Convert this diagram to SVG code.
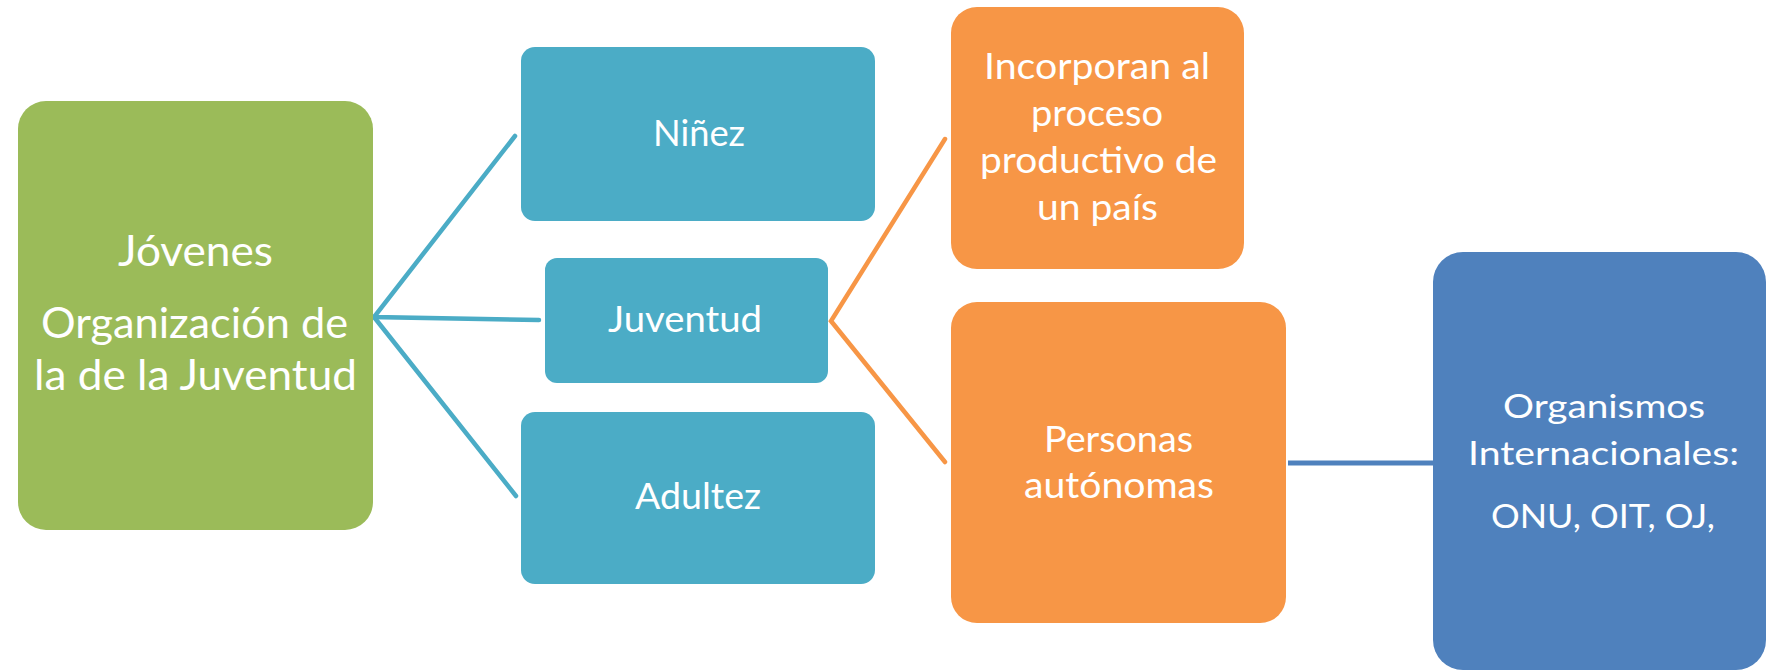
<svg xmlns="http://www.w3.org/2000/svg" width="1767" height="672" viewBox="0 0 1767 672">
<style>
  .t { font-family: Lato, "Open Sans", "Liberation Sans", sans-serif; fill: #ffffff; text-anchor: middle; }
  .big { font-size: 43px; }
  .mid { font-size: 36px; }
  .sm { font-size: 32px; }
  .teal { stroke: #4BACC6; stroke-width: 4.5; fill: none; stroke-linecap: round; }
  .orange { stroke: #F79646; stroke-width: 4.5; fill: none; stroke-linecap: round; }
  .blue { stroke: #4F81BD; stroke-width: 5; fill: none; }
</style>
<rect width="1767" height="672" fill="#ffffff"/>
<g id="connectors">
  <path class="teal" d="M515,136 L374,317 L539,320"/>
  <path class="teal" d="M374,317 L516,496"/>
  <path class="orange" d="M945,139 L831,321 L945,462"/>
  <line class="blue" x1="1288" y1="463" x2="1433" y2="463"/>
</g>
<g id="jovenes">
  <rect x="18" y="101" width="355" height="429" rx="28" fill="#9BBB59"/>
  <text class="t big" x="195.5" y="266" textLength="155" lengthAdjust="spacingAndGlyphs">Jóvenes</text>
  <text class="t big" x="194.5" y="338" textLength="307" lengthAdjust="spacingAndGlyphs">Organización de</text>
  <text class="t big" x="195.5" y="390" textLength="323" lengthAdjust="spacingAndGlyphs">la de la Juventud</text>
</g>
<g id="ninez">
  <rect x="521" y="47" width="354" height="174" rx="14" fill="#4BACC6"/>
  <text class="t mid" x="699" y="146" textLength="92" lengthAdjust="spacingAndGlyphs">Niñez</text>
</g>
<g id="juventud">
  <rect x="545" y="258" width="283" height="125" rx="12" fill="#4BACC6"/>
  <text class="t mid" x="685" y="332" textLength="154" lengthAdjust="spacingAndGlyphs">Juventud</text>
</g>
<g id="adultez">
  <rect x="521" y="412" width="354" height="172" rx="14" fill="#4BACC6"/>
  <text class="t mid" x="698" y="509" textLength="126" lengthAdjust="spacingAndGlyphs">Adultez</text>
</g>
<g id="incorporan">
  <rect x="951" y="7" width="293" height="262" rx="26" fill="#F79646"/>
  <text class="t mid" x="1097" y="79" textLength="226" lengthAdjust="spacingAndGlyphs">Incorporan al</text>
  <text class="t mid" x="1097" y="126" textLength="132" lengthAdjust="spacingAndGlyphs">proceso</text>
  <text class="t mid" x="1098.5" y="173" textLength="237" lengthAdjust="spacingAndGlyphs">productivo de</text>
  <text class="t mid" x="1097.5" y="220" textLength="121" lengthAdjust="spacingAndGlyphs">un país</text>
</g>
<g id="personas">
  <rect x="951" y="302" width="335" height="321" rx="26" fill="#F79646"/>
  <text class="t mid" x="1118.5" y="452" textLength="149" lengthAdjust="spacingAndGlyphs">Personas</text>
  <text class="t mid" x="1119" y="498" textLength="190" lengthAdjust="spacingAndGlyphs">autónomas</text>
</g>
<g id="organismos">
  <rect x="1433" y="252" width="333" height="418" rx="30" fill="#4F81BD"/>
  <text class="t sm" x="1604" y="418" textLength="202" lengthAdjust="spacingAndGlyphs">Organismos</text>
  <text class="t sm" x="1603.5" y="465" textLength="271" lengthAdjust="spacingAndGlyphs">Internacionales:</text>
  <text class="t sm" x="1603" y="528" textLength="224" lengthAdjust="spacingAndGlyphs">ONU, OIT, OJ,</text>
</g>
</svg>
